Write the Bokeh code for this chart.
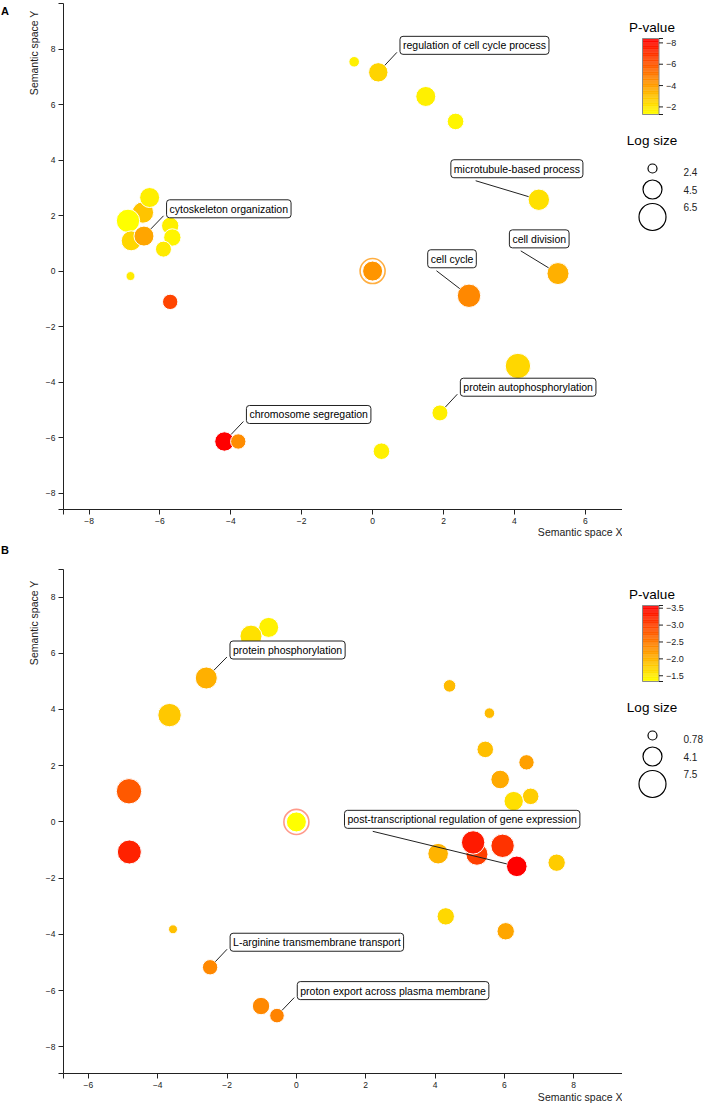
import numpy as np
from bokeh.plotting import figure
from bokeh.layouts import column, row
from bokeh.models import ColumnDataSource, Range1d, FixedTicker, Label, LinearInterpolator
from bokeh.transform import linear_cmap, transform
from bokeh.core.properties import value
from bokeh.embed import file_html
from bokeh.resources import INLINE

FONT = "Liberation Sans"
INK = "#222222"

# ---------------- Panel A: GO terms in semantic space ----------------
a_term = ["", "regulation of cell cycle process", "", "", "microtubule-based process",
          "cell division", "", "cell cycle", "", "protein autophosphorylation", "",
          "chromosome segregation", "", "", "", "", "", "", "", "cytoskeleton organization",
          "", "", ""]
a_x = [-0.52, 0.16, 1.50, 2.34, 4.69, 5.23, 0.00, 2.72, 4.10, 1.90, 0.25,
       -4.18, -3.79, -5.71, -6.83, -6.48, -6.90, -6.29, -6.81, -6.45, -5.71, -5.65, -5.90]
a_y = [7.54, 7.16, 6.29, 5.39, 2.57, -0.09, 0.00, -0.89, -3.42, -5.11, -6.49,
       -6.14, -6.14, -1.11, -0.18, 2.11, 1.81, 2.65, 1.09, 1.26, 1.63, 1.21, 0.79]
a_pval = [-1.71, -2.49, -1.71, -1.57, -2.16, -3.50, -4.25, -4.60, -2.41, -1.76, -1.71,
          -8.41, -4.50, -6.51, -1.85, -2.94, -1.29, -1.76, -2.41, -3.80, -1.71, -1.57, -1.85]
a_logsize = [2.74, 4.60, 4.75, 4.00, 5.10, 5.25, 4.75, 5.60, 6.10, 3.87, 4.00,
             4.60, 3.74, 3.74, 2.06, 5.10, 5.60, 4.75, 4.75, 4.75, 4.16, 4.16, 3.87]
a_size_legend = [2.4, 4.5, 6.5]
a_pticks = [-8, -6, -4, -2]
a_xticks = [-8, -6, -4, -2, 0, 2, 4, 6]
a_yticks = [-8, -6, -4, -2, 0, 2, 4, 6, 8]

# ---------------- Panel B ----------------
b_term = ["", "", "protein phosphorylation", "", "", "", "", "",
          "L-arginine transmembrane transport", "", "proton export across plasma membrane",
          "", "", "", "", "", "", "", "", "", "", "",
          "post-transcriptional regulation of gene expression", "", "", ""]
b_x = [-0.80, -1.31, -2.60, -3.66, -4.83, 0.00, -4.82, -3.56, -2.49, -1.02, -0.56,
       4.42, 5.57, 5.45, 6.64, 5.88, 6.76, 6.27, 4.09, 5.21, 5.10, 5.95, 6.36, 7.51, 4.31, 6.04]
b_y = [6.92, 6.61, 5.12, 3.80, 1.09, 0.00, -1.07, -3.82, -5.17, -6.55, -6.89,
       4.84, 3.87, 2.58, 2.12, 1.51, 0.91, 0.74, -1.13, -1.15, -0.73, -0.85, -1.58, -1.45, -3.36, -3.89]
b_pval = [-1.46, -1.60, -2.03, -1.82, -2.79, -1.33, -3.28, -1.89, -2.38, -2.38, -2.42,
          -1.93, -1.93, -1.90, -2.17, -2.08, -1.77, -1.62, -1.99, -3.02, -3.35, -3.13, -3.58, -1.78, -1.68, -2.12]
b_logsize = [4.53, 5.38, 5.38, 5.97, 6.82, 4.53, 6.23, 0.25, 2.90, 3.57, 2.64,
             1.98, 1.31, 3.30, 2.90, 3.97, 3.30, 4.27, 4.78, 5.38, 5.97, 5.97, 4.78, 3.57, 3.57, 3.57]
b_size_legend = [0.78, 4.1, 7.5]
b_pticks = [-3.5, -3.0, -2.5, -2.0, -1.5]
b_xticks = [-6, -4, -2, 0, 2, 4, 6, 8]
b_yticks = [-8, -6, -4, -2, 0, 2, 4, 6, 8]

# yellow -> red scale (index 0 = most significant)
PALETTE = ["#ff%02x00" % g for g in range(256)]
DIAMS = [9, 19, 27]   # marker diameters for the three legend sizes

STRIP_W = 42      # left strip holding panel letter and y title
MAIN_W = 580      # scatter figure (incl. its own left border for tick labels)
LEG_W = 87        # legend column


def minus(v, fmt):
    return (fmt % v).replace("-", "\u2212")


def blank(width, height):
    f = figure(width=width, height=height, x_range=Range1d(0, width),
               y_range=Range1d(0, height), toolbar_location=None, output_backend="svg",
               min_border=0, x_axis_type=None, y_axis_type=None)
    f.grid.visible = False
    f.outline_line_color = None
    return f


def scatter_panel(terms, xs, ys, pv, ls, size_keys, xticks, yticks, xr, yr,
                  height, top, bottom, callouts, ring_color):
    LEFT = 20
    fw = MAIN_W - LEFT
    fh = height - top - bottom
    p = figure(width=MAIN_W, height=height, x_range=Range1d(*xr), y_range=Range1d(*yr),
               toolbar_location=None, output_backend="svg",
               min_border_left=LEFT, min_border_right=0,
               min_border_top=top, min_border_bottom=bottom)
    p.grid.visible = False
    p.outline_line_color = None
    for ax, ticks, rng in ((p.xaxis[0], xticks, xr), (p.yaxis[0], yticks, yr)):
        ax.ticker = FixedTicker(ticks=list(ticks) + [rng[0], rng[1]])
        ov = {t: minus(t, "%g") for t in ticks}
        ov[rng[0]] = ""
        ov[rng[1]] = ""
        ax.major_label_overrides = ov
        ax.axis_line_color = INK
        ax.major_tick_line_color = INK
        ax.minor_tick_line_color = None
        ax.major_tick_out = 5
        ax.major_tick_in = 0
        ax.major_label_standoff = 3
        ax.major_label_text_font = FONT
        ax.major_label_text_font_size = "8.5px"
        ax.major_label_text_color = INK

    pmin, pmax = min(pv), max(pv)
    interp = LinearInterpolator(x=size_keys, y=DIAMS, clip=False)
    src = ColumnDataSource(dict(x=xs, y=ys, pval=pv, logsize=ls))

    # highlighted term at the origin gets an outer ring
    i0 = [i for i in range(len(xs)) if xs[i] == 0 and ys[i] == 0]
    ring = ColumnDataSource(dict(x=[xs[i] for i in i0], y=[ys[i] for i in i0],
                                 logsize=[ls[i] for i in i0]))
    p.scatter("x", "y", source=ring, size=transform("logsize", LinearInterpolator(
        x=size_keys, y=[d + 5 for d in DIAMS], clip=False)),
        fill_color=None, line_color=ring_color, line_width=1.6)

    p.scatter("x", "y", source=src, size=transform("logsize", interp),
              fill_color=linear_cmap("pval", PALETTE, pmin, pmax),
              line_color="white", line_width=1)

    kx = fw / (xr[1] - xr[0])
    ky = fh / (yr[1] - yr[0])
    PAD = 3
    for i, t in enumerate(terms):
        if not t:
            continue
        dx, dy, ax_, ay_ = callouts[t]
        r = np.interp(ls[i], size_keys, DIAMS) / 2
        vx, vy = dx + ax_, dy + ay_
        L = np.hypot(vx, vy)
        p.segment(x0=[xs[i] + r * vx / L / kx], y0=[ys[i] + r * vy / L / ky],
                  x1=[xs[i] + vx / kx], y1=[ys[i] + vy / ky],
                  line_color=INK, line_width=1)
        p.add_layout(Label(x=xs[i], y=ys[i], x_offset=dx + PAD, y_offset=dy + PAD,
                           text=t, text_font=FONT, text_font_size="10.5px",
                           text_color="black", text_align="left", text_baseline="bottom",
                           background_fill_color="white", border_line_color=INK,
                           border_line_width=1, border_radius=3, padding=PAD))
    return p


def left_strip(height, letter, letter_base, ytitle_top):
    s = blank(STRIP_W, height)
    s.text(x=[0.5], y=[height - letter_base], text=[letter], text_font=value(FONT),
           text_font_size="11px", text_font_style="bold", text_color="black",
           text_align="left", text_baseline="alphabetic")
    s.text(x=[33], y=[height - ytitle_top], text=["Semantic space Y"], angle=np.pi / 2,
           text_font=value(FONT), text_font_size="10.5px", text_color=INK,
           text_align="right", text_baseline="middle")
    return s


def bottom_strip(height, center_from_top):
    s = blank(MAIN_W, height)
    s.text(x=[MAIN_W], y=[height - center_from_top], text=["Semantic space X"],
           text_font=value(FONT), text_font_size="10.5px", text_color=INK,
           text_align="right", text_baseline="middle")
    return s


def legend(height, y0, pv, pticks, pfmt, size_keys):
    lg = figure(width=LEG_W, height=height, x_range=Range1d(0, LEG_W),
                y_range=Range1d(height, 0), toolbar_location=None, output_backend="svg",
                min_border=0, x_axis_type=None, y_axis_type=None)
    lg.grid.visible = False
    lg.outline_line_color = None
    pmin, pmax = min(pv), max(pv)
    bx0, bx1, bt, bb = 20, 36.5, y0 + 16, y0 + 92
    lg.text(x=[29.5], y=[y0 + 5], text=["P-value"], text_font=value(FONT),
            text_font_size="13.5px", text_color="black", text_align="center",
            text_baseline="alphabetic")
    n = 120
    edges = np.linspace(pmin, pmax, n + 1)

    def ypos(v):
        return bt + (np.asarray(v, dtype=float) - pmin) / (pmax - pmin) * (bb - bt)

    mids = (edges[:-1] + edges[1:]) / 2
    cb = ColumnDataSource(dict(v=mids, t=ypos(edges[:-1]), b=ypos(edges[1:]) + 0.3))
    lg.quad(left=bx0, right=bx1, top="t", bottom="b",
            fill_color=linear_cmap("v", PALETTE, pmin, pmax), line_color=None, source=cb)
    lg.quad(left=[bx0], right=[bx1], top=[bt], bottom=[bb], fill_color=None,
            line_color="#8a8a8a", line_width=1)
    tk = list(pticks)
    ty = list(ypos(tk)) + [bt, bb]
    lg.segment(x0=bx1, x1=bx1 + 4, y0=ty, y1=ty, line_color=INK, line_width=1)
    lg.text(x=bx1 + 7, y=list(ypos(tk)), text=[minus(t, pfmt) for t in tk],
            text_font=value(FONT), text_font_size="9px", text_color=INK,
            text_align="left", text_baseline="middle")

    ly = y0 + 118
    lg.text(x=[29.5], y=[ly], text=["Log size"], text_font=value(FONT),
            text_font_size="13.5px", text_color="black", text_align="center",
            text_baseline="alphabetic")
    interp = LinearInterpolator(x=size_keys, y=DIAMS, clip=False)
    lg.scatter(x=30, y="y", size=transform("s", interp), fill_color=None,
               line_color="black", line_width=1.2,
               source=ColumnDataSource(dict(s=size_keys, y=[ly + 28, ly + 49, ly + 76.5])))
    lg.text(x=61, y=[ly + 31, ly + 49, ly + 66], text=["%g" % s for s in size_keys],
            text_font=value(FONT), text_font_size="10px", text_color=INK,
            text_align="left", text_baseline="middle")
    return lg


calls_a = {
    "regulation of cell cycle process": (18.7, 15, 0, 5),
    "cytoskeleton organization": (19.6, 15.3, 0, 5),
    "microtubule-based process": (-91, 19, 27.7, 0),
    "cell division": (-51.6, 22.7, 14.3, 0),
    "cell cycle": (-44.3, 25, 11.7, 0),
    "protein autophosphorylation": (17.4, 13.7, 0, 5),
    "chromosome segregation": (19, 15, 0, 5),
}
calls_b = {
    "protein phosphorylation": (20.7, 16, 0, 5),
    "post-transcriptional regulation of gene expression": (-175.3, 35, 31, 0),
    "L-arginine transmembrane transport": (17, 13, 0, 5),
    "proton export across plasma membrane": (17.3, 13, 0, 5),
}

# panel A: 540 px tall, frame 506 px starting 3 px from the top
pa = scatter_panel(a_term, a_x, a_y, a_pval, a_logsize, a_size_legend, a_xticks, a_yticks,
                   (-8.72, 7.05), (-8.59, 9.64), 527, 3, 18, calls_a, "#ffae40")
block_a = row(left_strip(540, "A", 10, 10), column(pa, bottom_strip(13, 4.7)),
              legend(540, 22, a_pval, a_pticks, "%g", a_size_legend))

# panel B: 563 px tall, frame 504 px starting 29 px from the top
pb = scatter_panel(b_term, b_x, b_y, b_pval, b_logsize, b_size_legend, b_xticks, b_yticks,
                   (-6.72, 9.41), (-8.95, 8.98), 551, 29, 18, calls_b, "#ff9a8a")
block_b = row(left_strip(563, "B", 9.3, 40), column(pb, bottom_strip(12, 5.7)),
              legend(563, 49, b_pval, b_pticks, "%.1f", b_size_legend))

page = column(block_a, block_b)
open("out.html", "w").write(file_html(page, INLINE))
